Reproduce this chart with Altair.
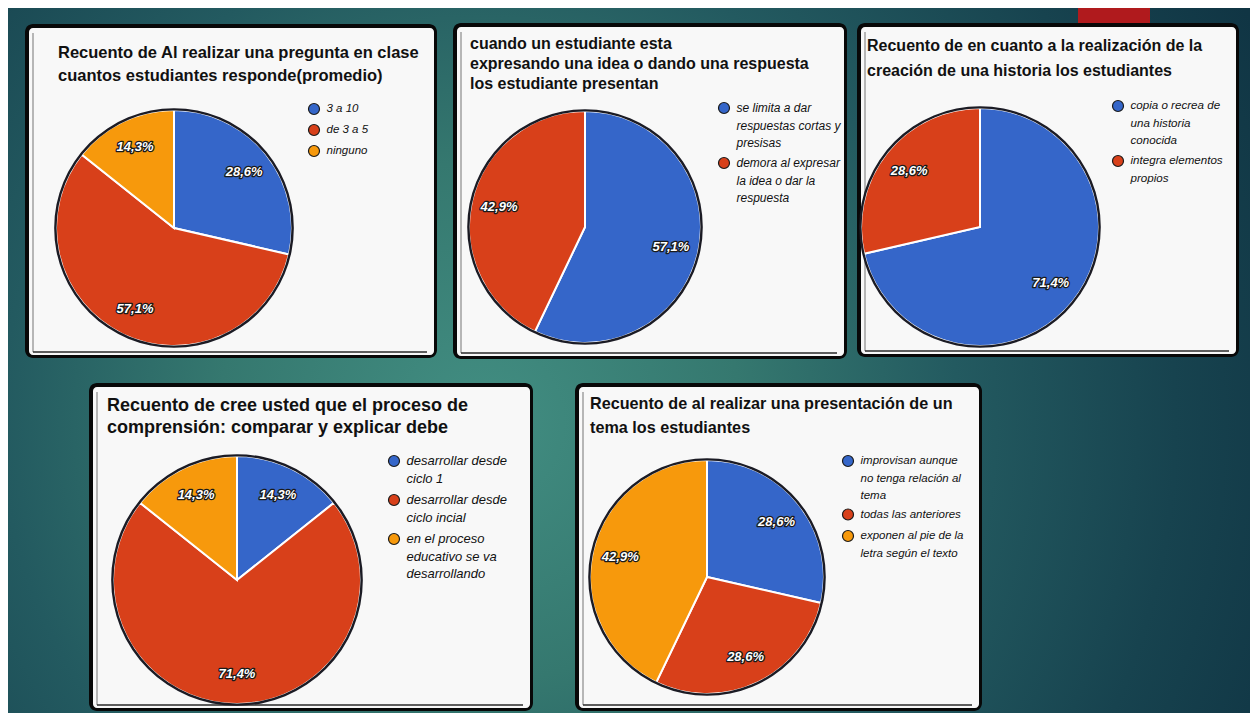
import json
import altair as alt
import pandas as pd

W, H = 1242, 705

# ---------------- data ----------------
p1_title = ["Recuento de Al realizar una pregunta en clase",
            "cuantos estudiantes responde(promedio)"]
p1_cats = ["3 a 10", "de 3 a 5", "ninguno"]
p1_vals = [28.6, 57.1, 14.3]
p1_wrap = [["3 a 10"], ["de 3 a 5"], ["ninguno"]]

p2_title = ["cuando un estudiante esta",
            "expresando una idea o dando una respuesta",
            "los estudiante presentan"]
p2_cats = ["se limita a dar respuestas cortas y presisas",
           "demora al expresar la idea o dar la respuesta"]
p2_vals = [57.1, 42.9]
p2_wrap = [["se limita a dar", "respuestas cortas y", "presisas"],
           ["demora al expresar", "la idea o dar la", "respuesta"]]

p3_title = ["Recuento de en cuanto a la realización de la",
            "creación de una historia los estudiantes"]
p3_cats = ["copia o recrea de una historia conocida",
           "integra elementos propios"]
p3_vals = [71.4, 28.6]
p3_wrap = [["copia o recrea de", "una historia", "conocida"],
           ["integra elementos", "propios"]]

p4_title = ["Recuento de cree usted que el proceso de",
            "comprensión: comparar y explicar debe"]
p4_cats = ["desarrollar desde ciclo 1",
           "desarrollar desde ciclo incial",
           "en el proceso educativo se va desarrollando"]
p4_vals = [14.3, 71.4, 14.3]
p4_wrap = [["desarrollar desde", "ciclo 1"],
           ["desarrollar desde", "ciclo incial"],
           ["en el proceso", "educativo se va", "desarrollando"]]

p5_title = ["Recuento de al realizar una presentación de un",
            "tema los estudiantes"]
p5_cats = ["improvisan aunque no tenga relación al tema",
           "todas las anteriores",
           "exponen al pie de la letra según el texto"]
p5_vals = [28.6, 28.6, 42.9]
p5_wrap = [["improvisan aunque", "no tenga relación al", "tema"],
           ["todas las anteriores"],
           ["exponen al pie de la", "letra según el texto"]]

slice_colors = ["#3566c9", "#d8401a", "#f7990c"]

# ---------------- layout ----------------
panels = [
    dict(title=p1_title, cats=p1_cats, vals=p1_vals, wrap=p1_wrap,
         box=(17, 16, 429, 350), c=(166, 220), R=118,
         tx=50, ty=50, tfs=16.5, tlh=23, lg=(305, 100), lfs=11.5, rp=4),
    dict(title=p2_title, cats=p2_cats, vals=p2_vals, wrap=p2_wrap,
         box=(445, 15, 839, 351), c=(577, 219), R=116,
         tx=462, ty=41, tfs=16, tlh=20, lg=(715, 99), lfs=12, rp=5),
    dict(title=p3_title, cats=p3_cats, vals=p3_vals, wrap=p3_wrap,
         box=(849, 15, 1231, 349), c=(972, 219), R=119,
         tx=859, ty=43, tfs=16, tlh=25, lg=(1109, 97), lfs=11.6, rp=5),
    dict(title=p4_title, cats=p4_cats, vals=p4_vals, wrap=p4_wrap,
         box=(81, 375, 525, 703), c=(229, 572), R=124,
         tx=99, ty=403, tfs=18, tlh=22, lg=(385, 452), lfs=13, rp=6),
    dict(title=p5_title, cats=p5_cats, vals=p5_vals, wrap=p5_wrap,
         box=(567, 375, 974, 703), c=(699, 569), R=117,
         tx=582, ty=401, tfs=16.2, tlh=24, lg=(839, 452), lfs=11.5, rp=4.5),
]

FONT = "Liberation Sans"
SYM = 121  # legend symbol area (diameter 11)
one = pd.DataFrame({"k": [0]})

bg_gradient = {
    "gradient": "radial",
    "x1": 0.38, "y1": 0.55, "r1": 0,
    "x2": 0.38, "y2": 0.55, "r2": 0.7,
    "stops": [
        {"offset": 0.0, "color": "#428e82"},
        {"offset": 0.3, "color": "#35786f"},
        {"offset": 0.55, "color": "#235a60"},
        {"offset": 0.8, "color": "#17434f"},
        {"offset": 1.0, "color": "#103544"},
    ],
}


def rect(x0, y0, x1, y1, **kw):
    return alt.Chart(one).mark_rect(**kw).encode(
        x=alt.value(x0), x2=alt.value(x1), y=alt.value(y0), y2=alt.value(y1))


layers = [
    rect(0, 0, W, H, fill=bg_gradient),
    rect(1070, 0, 1142, 17, fill="#b01a1d"),
]

for p in panels:
    x0, y0, x1, y1 = p["box"]
    layers.append(rect(x0, y0, x1, y1, fill="#080808", cornerRadius=8))
    layers.append(rect(x0 + 4, y0 + 4, x1 - 3, y1 - 3, fill="#f8f8f8", cornerRadius=4))
    layers.append(alt.Chart(one).mark_rule(color="#a0a0a0", strokeWidth=1.5).encode(
        x=alt.value(x0 + 8), y=alt.value(y0 + 9), y2=alt.value(y1 - 6)))
    layers.append(alt.Chart(one).mark_rule(color="#2a2a2a", strokeWidth=1.5).encode(
        x=alt.value(x0 + 8), x2=alt.value(x1 - 10), y=alt.value(y1 - 6)))

for p in panels:
    cx, cy = p["c"]
    R = p["R"]
    n = len(p["cats"])
    df = pd.DataFrame({"cat": p["cats"], "val": p["vals"], "order": list(range(n))})
    base = alt.Chart(df).transform_calculate(
        lab="replace(format(datum.val, '.1f'), '.', ',') + '%'")
    lx, ly = p["lg"]
    expr = "{}[indexof({}, datum.label)]".format(
        json.dumps(p["wrap"], ensure_ascii=False),
        json.dumps(p["cats"], ensure_ascii=False))
    legend = alt.Legend(
        orient="none", legendX=lx - 5.5, legendY=ly - 5.5, title=None, padding=0,
        symbolType="circle", symbolSize=SYM, symbolStrokeColor="#1a1a1a",
        symbolStrokeWidth=1.2, symbolOpacity=1,
        labelFont=FONT, labelFontStyle="italic", labelFontSize=p["lfs"],
        labelColor="#111111", labelOffset=6, labelLimit=400,
        rowPadding=p["rp"], labelExpr=expr, labelBaseline="middle")
    theta = alt.Theta("val:Q", stack=True)
    order = alt.Order("order:Q")
    slices = base.mark_arc(radius=R, stroke="white", strokeWidth=2).encode(
        theta=theta, order=order,
        color=alt.Color("cat:N", scale=alt.Scale(domain=p["cats"], range=slice_colors[:n]),
                        legend=legend),
        x=alt.value(cx), y=alt.value(cy))
    ring = alt.Chart(one).mark_arc(theta=0, theta2=6.2832, radius=R + 1.8,
                                   radius2=R - 0.6, fill="#1b1b24").encode(
        x=alt.value(cx), y=alt.value(cy))
    rl = R * 0.76
    lab_kw = dict(radius=rl, font=FONT, fontSize=13, fontStyle="italic",
                  fontWeight="bold", align="center", baseline="middle")
    halo = base.mark_text(fill="white", stroke="#1a1a1a", strokeWidth=2.6,
                          strokeJoin="round", **lab_kw).encode(
        theta=theta, order=order, text="lab:N", x=alt.value(cx), y=alt.value(cy))
    labels = base.mark_text(fill="white", **lab_kw).encode(
        theta=theta, order=order, text="lab:N", x=alt.value(cx), y=alt.value(cy))
    title = alt.Chart(one).mark_text(
        text=p["title"], font=FONT, fontSize=p["tfs"], fontWeight="bold",
        lineHeight=p["tlh"], align="left", baseline="alphabetic", color="#111111"
    ).encode(x=alt.value(p["tx"]), y=alt.value(p["ty"]))
    layers += [slices, ring, halo, labels, title]

chart = alt.layer(*layers).resolve_scale(
    theta="independent", color="independent"
).properties(
    width=W, height=H, padding=0, autosize="none", background="white"
).configure(
    style={"guide-label": {"lineHeight": 17.5}}
).configure_view(strokeWidth=0)

chart.save("out.html", embed_options={"renderer": "svg", "actions": False})
